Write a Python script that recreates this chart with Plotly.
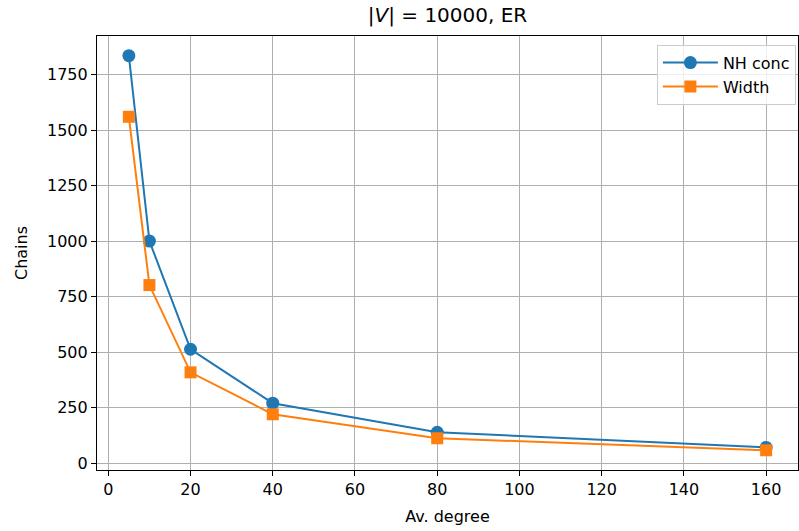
import plotly.graph_objects as go

# Average degree of the ER graphs (|V| = 10000)
degrees = [5, 10, 20, 40, 80, 160]
# Number of chains found by each method
nh_conc = [1836, 1001, 514, 271, 140, 72]
width = [1561, 803, 410, 221, 113, 59]

x_ticks = [0, 20, 40, 60, 80, 100, 120, 140, 160]
y_ticks = [0, 250, 500, 750, 1000, 1250, 1500, 1750]

BLUE = "#1f77b4"
ORANGE = "#ff7f0e"
FONT = "DejaVu Sans"

fig = go.Figure()
fig.add_trace(go.Scatter(
    x=degrees, y=nh_conc, mode="lines+markers", name="NH conc",
    line=dict(color=BLUE, width=2),
    marker=dict(symbol="circle", size=13, color=BLUE),
))
fig.add_trace(go.Scatter(
    x=degrees, y=width, mode="lines+markers", name="Width",
    line=dict(color=ORANGE, width=2),
    marker=dict(symbol="square", size=12, color=ORANGE),
))

axis_common = dict(
    showline=True, linecolor="black", linewidth=1.2, mirror=True,
    ticks="outside", ticklen=5, tickwidth=1, tickcolor="black",
    showgrid=True, gridcolor="#b0b0b0", gridwidth=0.8,
    zeroline=False,
    tickfont=dict(family=FONT, size=16, color="black"),
)

fig.update_xaxes(
    range=[-2.75, 167.75], tickvals=x_ticks,
    title=dict(text="Av. degree", font=dict(family=FONT, size=16, color="black"), standoff=12),
    **axis_common,
)
fig.update_yaxes(
    range=[-29.9, 1924.8], tickvals=y_ticks,
    title=dict(text="Chains", font=dict(family=FONT, size=16, color="black"), standoff=15),
    **axis_common,
)

fig.update_layout(
    width=799, height=531,
    margin=dict(l=97, r=1, t=36, b=61),
    paper_bgcolor="white", plot_bgcolor="white",
    font=dict(family=FONT, color="black"),
    title=dict(text="|<i>V</i>| = 10000, ER", x=0.5, xref="paper", xanchor="center",
               y=1, yref="container", yanchor="top", pad=dict(t=8),
               font=dict(family=FONT, size=20, color="black")),
    legend=dict(x=0.997, y=0.98, xanchor="right", yanchor="top",
                bgcolor="rgba(255,255,255,0.8)", bordercolor="#cccccc", borderwidth=1,
                font=dict(family=FONT, size=16, color="black"),
                itemwidth=55, tracegroupgap=3),
    showlegend=True,
)

fig.write_html("out.html")
